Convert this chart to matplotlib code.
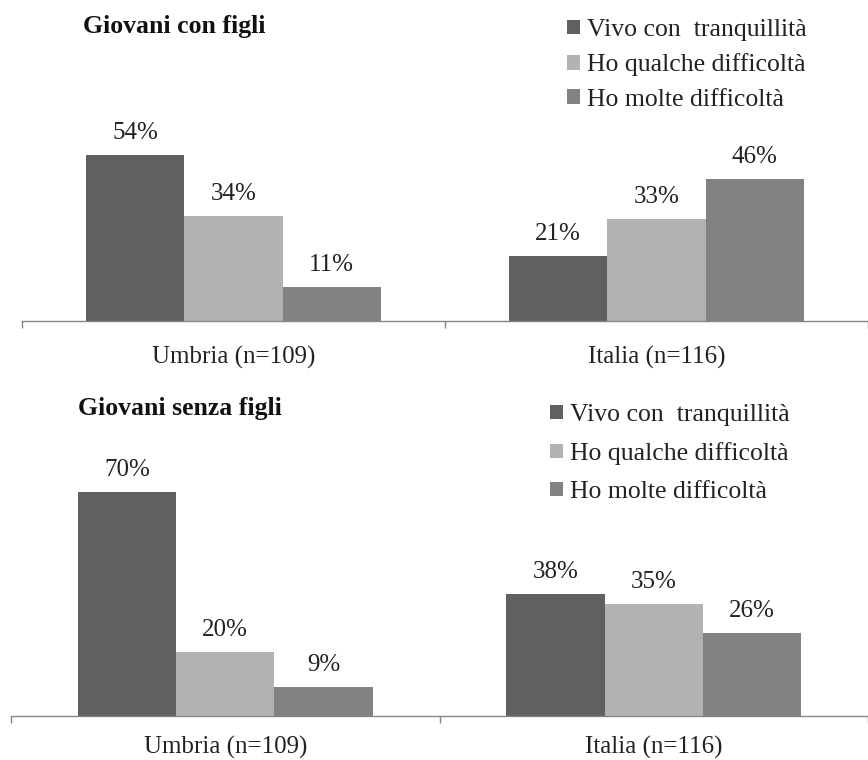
import matplotlib
matplotlib.use("Agg")
import matplotlib.pyplot as plt
from matplotlib.patches import Patch

plt.rcParams['font.family'] = ['Liberation Serif', 'DejaVu Serif']

categories = ["Umbria (n=109)", "Italia (n=116)"]
series = ["Vivo con  tranquillità", "Ho qualche difficoltà", "Ho molte difficoltà"]
colors = ["#606060", "#b2b2b2", "#828282"]

# values in percent: rows = series, columns = categories
con_figli = [[54, 21], [34, 33], [11, 46]]
senza_figli = [[70, 38], [20, 35], [9, 26]]

titles = ["Giovani con figli", "Giovani senza figli"]

W, H = 868, 760
fig = plt.figure(figsize=(W / 100, H / 100), dpi=100)

# panel geometry in pixels
panels = [
    dict(data=con_figli, left=22, unit=428, base=321, scale=3.08, top=20,
         title_xy=(83, 26), leg_xy=(562, 14), leg_ls=0.48, pad=18),
    dict(data=senza_figli, left=11, unit=434, base=716, scale=3.20, top=395,
         title_xy=(78, 408), leg_xy=(545, 399), leg_ls=0.62, pad=14),
]

for p, title in zip(panels, titles):
    ax_left = p['left'] / W
    ax_w = (W - p['left']) / W
    ax_b = 1 - p['base'] / H
    ax_h = (p['base'] - p['top']) / H
    ax = fig.add_axes([ax_left, ax_b, ax_w, ax_h])
    xmax = -0.5 + (W - p['left']) / p['unit']
    ax.set_xlim(-0.5, xmax)
    ax.set_ylim(0, (p['base'] - p['top']) / p['scale'])
    bw = 99.5 / p['unit']
    for i, (name, col) in enumerate(zip(series, colors)):
        xs = [c + (i - 1) * bw for c in range(len(categories))]
        bars = ax.bar(xs, p['data'][i], width=bw, color=col, label=name)
        for b, v in zip(bars, p['data'][i]):
            ax.annotate(f"{v}%", (b.get_x() + b.get_width() / 2, v),
                        xytext=(0, 8), textcoords='offset points',
                        ha='center', va='bottom', fontsize=18, color='#222222')
    for s in ['top', 'right', 'left']:
        ax.spines[s].set_visible(False)
    ax.spines['bottom'].set_color('#868686')
    ax.spines['bottom'].set_linewidth(1.0)
    ax.set_yticks([])
    ax.set_xticks([-0.5, 0.5, 1.5])
    ax.set_xticklabels([])
    ax.tick_params(axis='x', which='major', direction='out', length=5,
                   color='#868686', width=1.0)
    ax.set_xticks(range(len(categories)), minor=True)
    ax.set_xticklabels(categories, minor=True, fontsize=18, color='#222222')
    ax.tick_params(axis='x', which='minor', length=0, pad=p['pad'])
    ax.patch.set_alpha(0)

    fig.text(p['title_xy'][0] / W, 1 - p['title_xy'][1] / H, title,
             fontsize=18.5, fontweight='bold', ha='left', va='center', color='#111111')

    handles = [Patch(facecolor=c, edgecolor='none') for c in colors]
    fig.legend(handles, series, loc='upper left',
               bbox_to_anchor=(p['leg_xy'][0] / W, 1 - p['leg_xy'][1] / H),
               frameon=False, fontsize=18.5, handlelength=0.5, handleheight=0.5,
               handletextpad=0.27, labelspacing=p['leg_ls'], borderaxespad=0,
               borderpad=0.2, labelcolor='#222222')

fig.savefig("out.png", dpi=100)
